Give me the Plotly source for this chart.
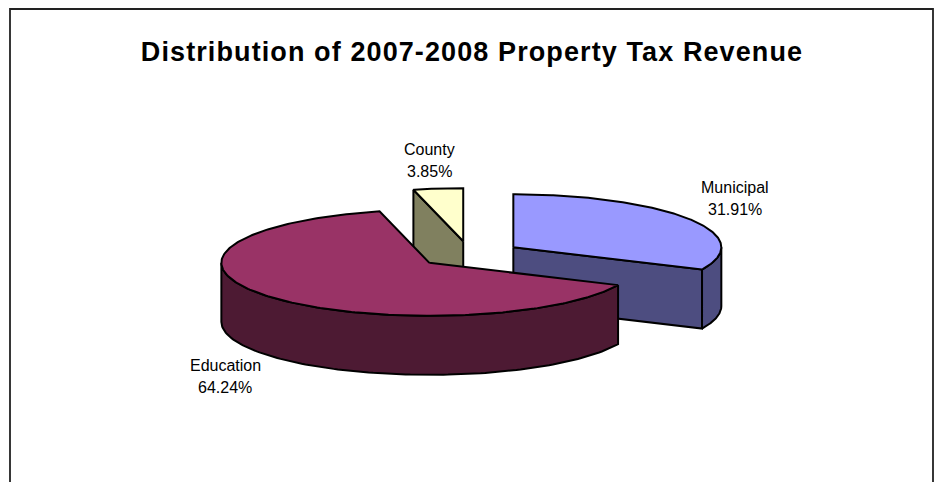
import numpy as np
import plotly.graph_objects as go

# Revenue shares, in drawing order clockwise from twelve o'clock
categories = ["Municipal", "Education", "County"]
shares = [31.91, 64.24, 3.85]
top_colors = ["#9999FF", "#993366", "#FFFFCC"]
side_colors = ["#4D4D80", "#4D1A33", "#80805F"]
title_text = "Distribution of 2007-2008 Property Tax Revenue"

# Projection of the tilted pie, in pixels of the 938x482 canvas
CX, CY = 469.5, 254.4
RX, RY = 208.0, 53.0
DEPTH = 59.0
EXPLODE = 0.25
EDGE = 2.0

# Where each two-line label sits: (centre x, first line y, second line y)
label_slots = {
    "Municipal": (735, 187, 209),
    "Education": (225, 365, 387),
    "County": (429, 149, 171),
}


def rim(cx, cy, a0, a1, n=120):
    t = np.radians(np.linspace(a0, a1, n))
    return cx + RX * np.sin(t), cy - RY * np.cos(t)


# Angular span and exploded centre of each slice
spans = {}
edges = np.concatenate([[0], np.cumsum(shares)]) / sum(shares) * 360
for name, a0, a1 in zip(categories, edges[:-1], edges[1:]):
    mid = np.radians((a0 + a1) / 2)
    spans[name] = (a0, a1, CX + EXPLODE * RX * np.sin(mid), CY - EXPLODE * RY * np.cos(mid))

fig = go.Figure()


def add_poly(x, y, color):
    fig.add_trace(go.Scatter(
        x=np.append(x, x[0]), y=np.append(y, y[0]), mode="lines", fill="toself",
        fillcolor=color, line=dict(color="#000000", width=EDGE),
        hoverinfo="skip", showlegend=False,
    ))


def radial_wall(cx, cy, angle, color):
    px, py = rim(cx, cy, angle, angle, 1)
    add_poly(np.array([cx, px[0], px[0], cx]),
             np.array([cy, py[0], py[0] + DEPTH, cy + DEPTH]), color)


def rim_wall(cx, cy, a0, a1, color):
    px, py = rim(cx, cy, a0, a1)
    add_poly(np.concatenate([px, px[::-1]]),
             np.concatenate([py, py[::-1] + DEPTH]), color)


def top_face(cx, cy, a0, a1, color):
    px, py = rim(cx, cy, a0, a1, 240)
    add_poly(np.concatenate([[cx], px]), np.concatenate([[cy], py]), color)


# Back to front: County, then Municipal, then the Education slice over both
a0, a1, cx, cy = spans["County"]
i = categories.index("County")
radial_wall(cx, cy, a0, side_colors[i])
top_face(cx, cy, a0, a1, top_colors[i])

a0, a1, cx, cy = spans["Municipal"]
i = categories.index("Municipal")
radial_wall(cx, cy, a1, side_colors[i])
rim_wall(cx, cy, 90, a1, side_colors[i])
top_face(cx, cy, a0, a1, top_colors[i])

a0, a1, cx, cy = spans["Education"]
i = categories.index("Education")
rim_wall(cx, cy, a0, 270, side_colors[i])
top_face(cx, cy, a0, a1, top_colors[i])

# Category name above its percentage
label_font = dict(family="Liberation Sans, Arial, sans-serif", size=16, color="#000000")
annotations = []
for name, share in zip(categories, shares):
    x, y1, y2 = label_slots[name]
    for text, y in ((name, y1), (f"{share:.2f}%", y2)):
        annotations.append(dict(x=x, y=y, xref="x", yref="y", text=text, showarrow=False,
                                xanchor="center", yanchor="middle", font=label_font))

fig.update_layout(
    width=938, height=482,
    margin=dict(l=0, r=0, t=0, b=0),
    paper_bgcolor="#FFFFFF", plot_bgcolor="#FFFFFF",
    title=dict(text=f"<b>{title_text}</b>", x=472 / 938, y=1 - 52 / 482,
               xanchor="center", yanchor="middle",
               font=dict(family="Liberation Sans, Arial, sans-serif", size=27, color="#000000")),
    xaxis=dict(range=[0, 938], visible=False, fixedrange=True),
    yaxis=dict(range=[482, 0], visible=False, fixedrange=True),
    annotations=annotations,
    shapes=[dict(type="rect", xref="x", yref="y", x0=10, y0=9, x1=933, y1=500,
                 line=dict(color="#222222", width=1.8), layer="below")],
)

# The title is set with slightly open tracking
tracking = "document.querySelectorAll('.gtitle').forEach(t => t.style.letterSpacing = '1.1px');"
fig.write_html("out.html", config={"displayModeBar": False}, post_script=tracking)
